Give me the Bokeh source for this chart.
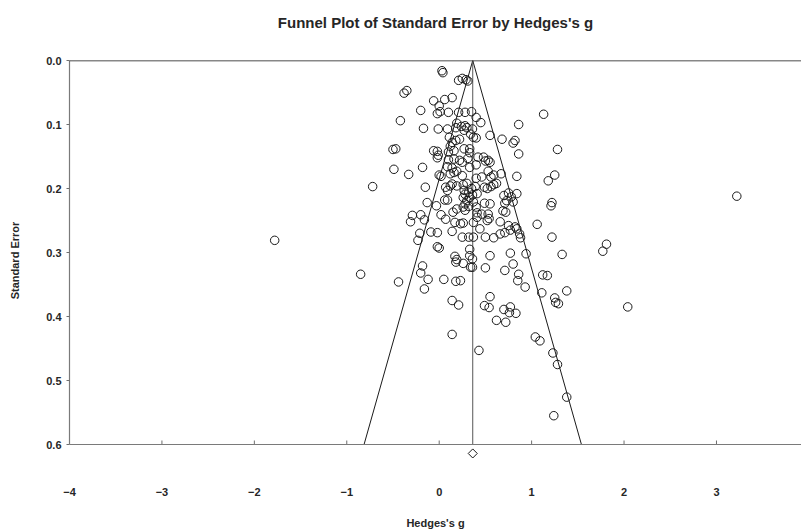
import math
from bokeh.plotting import figure
from bokeh.models import Range1d, FixedTicker, PrintfTickFormatter, Span, Title
from bokeh.embed import file_html
from bokeh.resources import INLINE

# Study effect sizes (Hedges's g) and their standard errors
hedges_g = [
    0.03, 0.04, 0.21, 0.25, 0.29, 0.31, -0.38, -0.35, -0.06, 0.06, 0.14, 0.00, -0.20, -0.02,
    0.01, 0.10, 0.21, 0.28, 0.35, 0.40, 0.45, -0.42, -0.17, -0.01, 0.09, 0.19, 0.18, 0.24,
    0.28, 0.27, 0.30, 0.36, 0.34, 0.37, 0.40, 0.55, 0.68, 0.82, 0.80, 0.86, 1.13, 1.28,
    0.86, -0.50, -0.47, 0.11, 0.14, 0.12, 0.18, 0.22, -0.06, -0.02, -0.01, -0.02, 0.10, 0.16,
    0.27, 0.33, 0.33, 0.10, 0.16, 0.22, 0.25, 0.31, 0.42, 0.48, 0.50, 0.53, 0.55, 0.33,
    0.40, 0.09, 0.14, -0.49, -0.33, -0.18, 0.00, 0.02, 0.12, 0.16, 0.19, 0.25, 0.40, 0.46,
    0.53, 0.56, 0.59, 0.67, 0.84, 1.18, 1.25, -0.72, -0.15, 0.07, 0.12, 0.09, 0.14, 0.19,
    0.26, 0.30, 0.27, 0.28, 0.32, 0.35, 0.36, 0.39, 0.41, 0.49, 0.52, 0.56, 0.59, 0.62,
    -0.13, -0.03, 0.06, 0.09, 0.26, 0.30, 0.28, 0.32, 0.33, 0.37, 0.40, 0.49, 0.55, 0.70,
    0.75, 0.78, 0.84, 0.71, 0.73, 0.80, 0.69, 0.72, 1.22, 1.21, 1.06, 1.22, 0.15, 0.19,
    0.26, 0.28, 0.02, 0.07, 0.41, 0.46, 0.53, 0.54, 0.52, 0.66, 0.75, 0.82, -0.29, -0.31,
    -0.20, -0.16, 0.17, 0.23, 0.26, 0.41, 0.37, -0.09, -0.02, -0.21, 0.14, 0.25, 0.32, 0.37,
    0.44, 0.50, 0.59, 0.66, 0.71, 0.77, 0.84, 0.87, 0.88, -0.23,
    -0.02, 0.00, 0.17, 0.19, 0.18, 0.26, 0.33, 0.33, 0.36, 0.34, 0.36, 0.55, 0.50, 0.77,
    0.80, 0.71, 0.94, 0.86, 0.85, 0.93, 1.12, 1.17, 1.33, 1.11, 1.25, 1.26, 1.29, 1.38,
    -0.85, -0.18, -0.20, -0.44, -0.12, -0.16, 0.05, 0.18, 0.23, 0.14, 0.21, 0.55, 0.49, 0.54,
    0.70, 0.77, 0.76, 0.83, 0.62, 0.72, 0.14, 0.43, 1.04, 1.09, 1.23, 1.28, 1.38, 1.24,
    3.22, 1.81, 1.77, 2.04, -1.78,
]
std_err = [
    0.016, 0.019, 0.031, 0.028, 0.030, 0.032, 0.051, 0.047, 0.063, 0.061, 0.058, 0.071, 0.078, 0.083,
    0.080, 0.081, 0.081, 0.081, 0.080, 0.089, 0.097, 0.094, 0.106, 0.107, 0.107, 0.098, 0.105, 0.103,
    0.102, 0.109, 0.105, 0.107, 0.115, 0.120, 0.121, 0.117, 0.123, 0.125, 0.129, 0.100, 0.084, 0.139,
    0.146, 0.139, 0.138, 0.120, 0.128, 0.134, 0.125, 0.123, 0.141, 0.142, 0.148, 0.152, 0.143, 0.141,
    0.138, 0.138, 0.144, 0.155, 0.154, 0.156, 0.159, 0.153, 0.151, 0.151, 0.157, 0.156, 0.159, 0.167,
    0.163, 0.166, 0.168, 0.170, 0.178, 0.167, 0.179, 0.181, 0.177, 0.175, 0.173, 0.180, 0.184, 0.182,
    0.173, 0.182, 0.179, 0.177, 0.181, 0.188, 0.179, 0.197, 0.198, 0.198, 0.196, 0.203, 0.193, 0.196,
    0.194, 0.192, 0.203, 0.209, 0.206, 0.200, 0.210, 0.197, 0.208, 0.198, 0.200, 0.197, 0.194, 0.192,
    0.222, 0.227, 0.218, 0.218, 0.214, 0.219, 0.224, 0.228, 0.214, 0.221, 0.229, 0.223, 0.224, 0.211,
    0.207, 0.213, 0.208, 0.223, 0.219, 0.221, 0.235, 0.237, 0.222, 0.227, 0.256, 0.276, 0.237, 0.232,
    0.229, 0.234, 0.241, 0.248, 0.238, 0.240, 0.240, 0.247, 0.250, 0.252, 0.258, 0.260, 0.242, 0.252,
    0.241, 0.249, 0.253, 0.255, 0.254, 0.245, 0.253, 0.268, 0.269, 0.270, 0.267, 0.276, 0.276, 0.276,
    0.263, 0.276, 0.277, 0.271, 0.269, 0.265, 0.263, 0.271, 0.277, 0.281,
    0.291, 0.293, 0.306, 0.311, 0.315, 0.317, 0.295, 0.305, 0.310, 0.323, 0.323, 0.305, 0.324, 0.301,
    0.318, 0.328, 0.302, 0.334, 0.344, 0.354, 0.335, 0.336, 0.303, 0.363, 0.371, 0.378, 0.380, 0.360,
    0.334, 0.321, 0.332, 0.346, 0.342, 0.357, 0.342, 0.345, 0.344, 0.375, 0.382, 0.369, 0.383, 0.386,
    0.389, 0.385, 0.394, 0.395, 0.406, 0.409, 0.428, 0.453, 0.432, 0.438, 0.457, 0.475, 0.526, 0.555,
    0.212, 0.287, 0.298, 0.385, 0.281,
]

mean_g = 0.363          # combined effect
se_max = 0.6
diamond_se = 0.614
x_ticks = [-4, -3, -2, -1, 0, 1, 2, 3]
y_ticks = [0.0, 0.1, 0.2, 0.3, 0.4, 0.5, 0.6]

FONT = "Liberation Sans"
TXT = "#262626"
AXIS = "#7a7a7a"

# the frame reaches a little below SE = 0.6 so the combined-effect diamond can be drawn
p = figure(width=801, height=531, output_backend="svg", toolbar_location=None,
           x_range=Range1d(-4, 3.92), y_range=Range1d(0.625, 0.0),
           min_border_left=69, min_border_right=0, min_border_top=60, min_border_bottom=71)
p.outline_line_color = None
p.background_fill_color = "white"
p.border_fill_color = "white"
p.xgrid.visible = False
p.ygrid.visible = False

p.title.text = "Funnel Plot of Standard Error by Hedges's g"
p.title.text_font = FONT
p.title.text_font_size = "15px"
p.title.text_font_style = "bold"
p.title.text_color = TXT
p.title.align = "center"
p.title.standoff = 0
# blank spacer between the title and the plot frame
p.add_layout(Title(text=" ", text_font_size="1px", standoff=27), "above")

# x axis: labels from the axis, the line itself sits at SE = 0.6
xa = p.xaxis[0]
xa.ticker = FixedTicker(ticks=x_ticks)
xa.minor_tick_line_color = None
xa.major_tick_line_color = None
xa.axis_line_color = None
xa.major_label_standoff = 21
xa.major_label_text_font = FONT
xa.major_label_text_font_size = "11px"
xa.major_label_text_font_style = "bold"
xa.major_label_text_color = TXT
xa.axis_label = "Hedges's g"
xa.axis_label_text_font = FONT
xa.axis_label_text_font_size = "11px"
xa.axis_label_text_font_style = "bold"
xa.axis_label_text_color = TXT
xa.axis_label_standoff = 18

p.add_layout(Span(location=se_max, dimension="width", line_color=AXIS, line_width=1.2))
tick_len = 0.00625
p.segment(x0=x_ticks, y0=[se_max] * len(x_ticks), x1=x_ticks,
          y1=[se_max - tick_len] * len(x_ticks), line_color="#6e6e6e", line_width=1)

# y axis
ya = p.yaxis[0]
ya.ticker = FixedTicker(ticks=y_ticks)
ya.formatter = PrintfTickFormatter(format="%.1f")
ya.bounds = (0.0, se_max)
ya.minor_tick_line_color = None
ya.major_tick_in = 0
ya.major_tick_out = 3
ya.major_tick_line_color = "#6e6e6e"
ya.axis_line_color = AXIS
ya.axis_line_width = 1.2
ya.major_label_standoff = 5
ya.major_label_text_font = FONT
ya.major_label_text_font_size = "11px"
ya.major_label_text_font_style = "bold"
ya.major_label_text_color = TXT
ya.axis_label = "Standard Error"
ya.axis_label_text_font = FONT
ya.axis_label_text_font_size = "11px"
ya.axis_label_text_font_style = "bold"
ya.axis_label_text_color = TXT
ya.axis_label_standoff = 22

# top border
p.add_layout(Span(location=0.0, dimension="width", line_color="#111111", line_width=1.3))

# funnel (95% pseudo-confidence limits) and mean line
p.line([mean_g - 1.96 * se_max, mean_g, mean_g + 1.96 * se_max], [se_max, 0.0, se_max],
       line_color="#1a1a1a", line_width=1)
p.line([mean_g, mean_g], [0.0, se_max], line_color="#555555", line_width=1)

# studies
p.scatter(hedges_g, std_err, marker="circle", size=8.5, fill_color=None,
          line_color="#1a1a1a", line_width=1)

# combined-effect diamond under the axis
p.scatter([mean_g], [diamond_se], marker="square", angle=math.pi / 4, size=6.4,
          fill_color="white", line_color="#1a1a1a", line_width=1)

open("out.html", "w").write(file_html(p, INLINE))
